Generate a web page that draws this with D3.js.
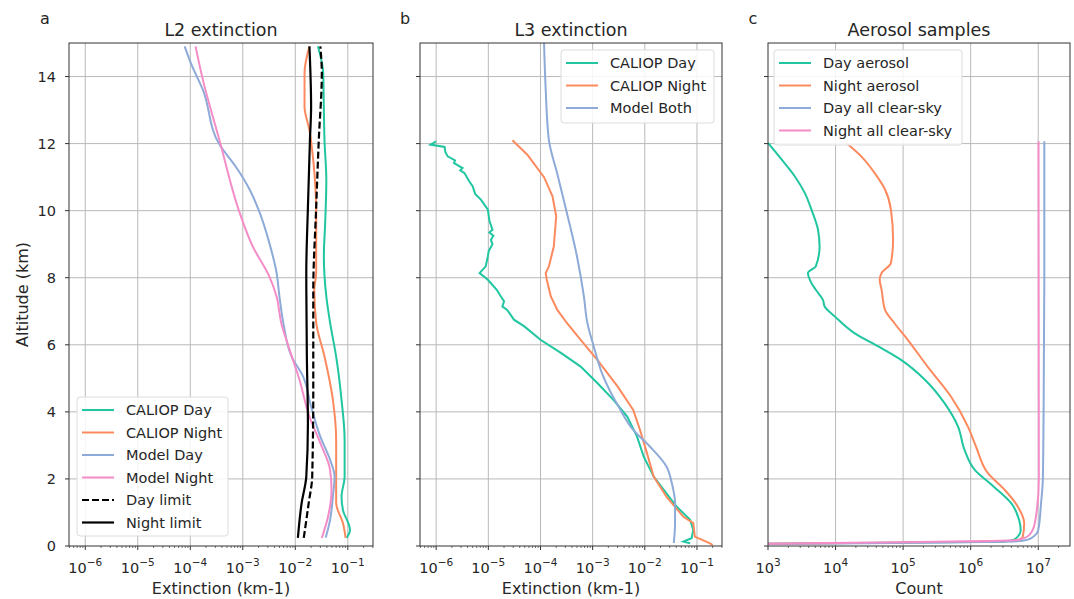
<!DOCTYPE html>
<html>
<head>
<meta charset="utf-8">
<script src="https://cdn.jsdelivr.net/npm/d3@7"></script>
<style>
  body { margin: 0; background: #fff; }
  text { font-family: "DejaVu Sans", sans-serif; fill: #262626; }
</style>
</head>
<body>
<svg id="fig" width="1074" height="599"></svg>
<script>
// ---- data ----
const altTicks = [0, 2, 4, 6, 8, 10, 12, 14];
const extTicks = [1e-6, 1e-5, 1e-4, 1e-3, 1e-2, 1e-1];
const countTicks = [1e3, 1e4, 1e5, 1e6, 1e7];

// panel a, L2 extinction: [altitude km, extinction km-1]
const l2CaliopDay = [[14.9,2.7e-2],[14.1,3.4e-2],[13,3.5e-2],[12.1,3.6e-2],[10.9,3.9e-2],[9.6,3.7e-2],[8.64,3.5e-2],[7.44,3.9e-2],[6.66,4.6e-2],[5.65,6.0e-2],[4.36,7.6e-2],[3.16,8.7e-2],[2.07,8.7e-2],[1.47,7.6e-2],[1.07,8.1e-2],[0.48,1.1e-1],[0.24,9.5e-2]];
const l2CaliopNight = [[14.9,1.86e-2],[14.1,1.5e-2],[13.1,1.5e-2],[12.4,1.86e-2],[11.5,2.2e-2],[9.94,2.5e-2],[8.15,2.5e-2],[7.64,2.3e-2],[6.66,2.5e-2],[5.65,3.6e-2],[4.36,5.2e-2],[3.16,6.0e-2],[2.07,6.0e-2],[1.28,6.0e-2],[0.68,8.1e-2],[0.24,9.1e-2]];
const l2ModelDay = [[14.9,7.8e-5],[14.36,1.05e-4],[13.6,1.74e-4],[11.97,3.6e-4],[11.28,7.6e-4],[10.63,1.35e-3],[9.94,2.1e-3],[9.04,3.2e-3],[8.15,4.4e-3],[7.43,5.0e-3],[6.66,5.9e-3],[5.65,8.5e-3],[5.05,1.41e-2],[4.16,2.0e-2],[3.26,3.0e-2],[2.57,4.6e-2],[2.07,5.6e-2],[1.47,5.2e-2],[0.78,4.6e-2],[0.25,3.8e-2]];
const l2ModelNight = [[14.9,1.26e-4],[13.9,1.74e-4],[12.1,3.6e-4],[9.94,8.7e-4],[8.93,1.55e-3],[8.04,3.2e-3],[7.44,4.4e-3],[6.65,5.4e-3],[5.85,7.8e-3],[4.96,1.2e-2],[3.86,1.86e-2],[3.07,3.0e-2],[2.27,4.6e-2],[1.67,4.9e-2],[0.87,4.2e-2],[0.24,3.2e-2]];
const l2DayLimit = [[14.9,3.0e-2],[14.1,3.2e-2],[12.1,2.8e-2],[10.1,2.5e-2],[7.6,2.2e-2],[4.66,2.2e-2],[2.07,2.1e-2],[1.28,1.8e-2],[0.24,1.45e-2]];
const l2NightLimit = [[14.9,1.86e-2],[13.1,2.0e-2],[12.1,1.9e-2],[10.1,1.74e-2],[8.15,1.62e-2],[5.65,1.66e-2],[3.66,1.74e-2],[2.07,1.62e-2],[1.28,1.32e-2],[0.24,1.12e-2]];

// panel b, L3 extinction
const l3CaliopDay = [[12.07,1.0e-6],[11.97,7.8e-7],[11.9,1.45e-6],[11.75,1.5e-6],[11.62,1.66e-6],[11.5,2.3e-6],[11.42,2.2e-6],[11.27,3.2e-6],[11.2,2.9e-6],[11.12,3.5e-6],[10.9,4.2e-6],[10.73,5.0e-6],[10.5,5.6e-6],[10.33,7.2e-6],[10.03,9.8e-6],[9.7,1.05e-5],[9.43,1.2e-5],[9.35,1.05e-5],[9.25,1.25e-5],[9.13,1.12e-5],[9.0,1.2e-5],[8.8,1.02e-5],[8.64,9.8e-6],[8.34,8.9e-6],[8.14,6.8e-6],[7.94,9.8e-6],[7.64,1.45e-5],[7.44,1.74e-5],[7.3,2.0e-5],[7.14,1.86e-5],[7.04,2.3e-5],[6.75,3.1e-5],[6.55,4.9e-5],[6.15,1.0e-4],[5.75,2.5e-4],[5.35,5.9e-4],[4.86,1.23e-3],[4.36,2.5e-3],[3.86,4.6e-3],[3.26,7.1e-3],[2.67,9.5e-3],[2.07,1.48e-2],[1.57,2.6e-2],[1.17,4.1e-2],[0.78,7.4e-2],[0.48,8.5e-2],[0.23,7.9e-2],[0.13,5.5e-2],[0.08,7.4e-2]];
const l3CaliopNight = [[12.1,2.9e-5],[11.67,5.6e-5],[11.0,1.17e-4],[10.43,1.7e-4],[9.83,2.0e-4],[8.93,1.8e-4],[8.34,1.45e-4],[8.14,1.26e-4],[7.94,1.32e-4],[7.44,1.58e-4],[7.04,2.1e-4],[6.65,3.2e-4],[6.15,5.9e-4],[5.55,1.23e-3],[4.76,3.0e-3],[4.06,6.0e-3],[3.46,8.1e-3],[2.77,1.1e-2],[2.07,1.48e-2],[1.47,2.6e-2],[0.87,5.5e-2],[0.68,8.5e-2],[0.28,9.1e-2],[0.08,1.78e-1],[0.03,2.0e-1]];
const l3ModelBoth = [[15.0,1.17e-4],[13.6,1.26e-4],[12.1,1.45e-4],[11.1,2.1e-4],[9.94,3.2e-4],[8.64,5.0e-4],[7.44,6.8e-4],[6.66,7.9e-4],[5.95,1.05e-3],[5.16,1.5e-3],[4.06,3.4e-3],[3.46,6.0e-3],[2.96,1.26e-2],[2.37,2.6e-2],[1.87,3.3e-2],[1.27,3.8e-2],[0.68,3.8e-2],[0.09,3.6e-2]];

// panel c, aerosol samples: [altitude km, count]
const dayAerosol = [[12.02,1.0e3],[11.52,1.6e3],[11.02,2.5e3],[10.53,3.5e3],[10.03,4.4e3],[9.43,5.5e3],[8.93,5.8e3],[8.34,5.1e3],[8.14,3.9e3],[7.84,4.4e3],[7.64,5.1e3],[7.34,6.5e3],[7.14,6.9e3],[6.84,9.8e3],[6.35,1.9e4],[5.95,4.3e4],[5.55,9.3e4],[4.96,2.1e5],[4.26,4.1e5],[3.56,6.5e5],[2.87,8.1e5],[2.27,1.15e6],[1.77,2.2e6],[1.27,4.0e6],[0.78,5.2e6],[0.48,5.5e6],[0.2,4.5e6],[0.13,3.0e6],[0.05,1e2]];
const nightAerosol = [[12.02,1.45e4],[11.62,2.4e4],[11.12,3.8e4],[10.63,5.4e4],[10.03,6.6e4],[9.13,7.1e4],[8.44,6.6e4],[8.14,4.8e4],[7.94,4.5e4],[7.64,4.8e4],[7.04,5.4e4],[6.65,7.4e4],[6.15,1.17e5],[5.35,2.3e5],[4.46,5.1e5],[3.56,9.1e5],[2.96,1.2e6],[2.17,1.8e6],[1.67,3.2e6],[1.17,5.0e6],[0.68,6.2e6],[0.28,5.9e6],[0.16,4.5e6],[0.05,1e2]];
const dayClearSky = [[12.07,1.23e7],[8,1.23e7],[4,1.2e7],[2,1.17e7],[1.27,1.1e7],[0.48,1.0e7],[0.23,7.8e6],[0.15,5.5e6],[0.05,1e2]];
const nightClearSky = [[12.07,1.01e7],[2,1.02e7],[0.68,8.9e6],[0.33,7.4e6],[0.18,5.0e6],[0.05,1e2]];

// ---- drawing ----
const teal = "#1fc6a0", orange = "#fc8a5e", blue = "#8eaad8", pink = "#f48cc8";
const svg = d3.select("#fig");
const plotTop = 43, plotBottom = 546;
const y = d3.scaleLinear().domain([0, 15]).range([plotBottom, plotTop]);

function supLabel(sel, v) {
  const e = Math.round(Math.log10(v));
  sel.append("tspan").text("10");
  sel.append("tspan").attr("dy", -7).attr("font-size", 10.5).text(e < 0 ? "\u2212" + (-e) : e);
}

function panel(p, idx) {
  const x = d3.scaleLog().domain(p.xDomain).range([p.left, p.right]);
  const g = svg.append("g");

  svg.append("clipPath").attr("id", "clip" + idx)
    .append("rect").attr("x", p.left).attr("y", plotTop).attr("width", p.right - p.left).attr("height", plotBottom - plotTop);

  // grid
  g.selectAll(".gx").data(p.xTicks.filter(v => x(v) > p.left + 1)).join("line")
    .attr("x1", d => x(d)).attr("x2", d => x(d)).attr("y1", plotTop).attr("y2", plotBottom)
    .attr("stroke", "#b9b9b9").attr("stroke-width", 1);
  g.selectAll(".gy").data(altTicks.filter(v => v > 0)).join("line")
    .attr("x1", p.left).attr("x2", p.right).attr("y1", d => y(d)).attr("y2", d => y(d))
    .attr("stroke", "#b9b9b9").attr("stroke-width", 1);

  // minor ticks
  const minors = [];
  const [lo, hi] = p.xDomain.map(Math.log10);
  for (let d = Math.floor(lo); d <= Math.ceil(hi); d++)
    for (let k = 2; k <= 9; k++) {
      const v = k * Math.pow(10, d);
      if (v > p.xDomain[0] && v < p.xDomain[1]) minors.push(v);
    }
  g.selectAll(".mt").data(minors).join("line")
    .attr("x1", d => x(d)).attr("x2", d => x(d)).attr("y1", plotBottom).attr("y2", plotBottom + 2)
    .attr("stroke", "#333").attr("stroke-width", 0.7);
  g.selectAll(".xt").data(p.xTicks).join("line")
    .attr("x1", d => x(d)).attr("x2", d => x(d)).attr("y1", plotBottom).attr("y2", plotBottom + 4)
    .attr("stroke", "#333").attr("stroke-width", 1);
  g.selectAll(".yt").data(altTicks).join("line")
    .attr("x1", p.left - 4).attr("x2", p.left).attr("y1", d => y(d)).attr("y2", d => y(d))
    .attr("stroke", "#333").attr("stroke-width", 1);

  g.selectAll(".xl").data(p.xTicks).join("text")
    .attr("x", d => x(d)).attr("y", 573).attr("text-anchor", "middle").attr("font-size", 14.5)
    .each(function (d) { supLabel(d3.select(this), d); });

  if (p.yLabels) {
    g.selectAll(".yl").data(altTicks).join("text")
      .attr("x", p.left - 13).attr("y", d => y(d) + 5).attr("text-anchor", "end").attr("font-size", 14.5)
      .text(d => d);
    g.append("text").attr("transform", `translate(28,${(plotTop + plotBottom) / 2}) rotate(-90)`)
      .attr("text-anchor", "middle").attr("font-size", 16).text("Altitude (km)");
  }

  // lines
  const lines = g.append("g").attr("clip-path", `url(#clip${idx})`);
  p.series.forEach(s => {
    const pts = s.data.slice().sort((a, b) => a[0] - b[0]);
    const line = d3.line().x(d => x(d[1])).y(d => y(d[0]))
      .curve(s.jagged ? d3.curveLinear : d3.curveMonotoneY);
    lines.append("path").attr("d", line(pts)).attr("fill", "none")
      .attr("stroke", s.color).attr("stroke-width", s.width || 2)
      .attr("stroke-dasharray", s.dash || null);
  });

  // frame
  g.append("rect").attr("x", p.left).attr("y", plotTop).attr("width", p.right - p.left).attr("height", plotBottom - plotTop)
    .attr("fill", "none").attr("stroke", "#333").attr("stroke-width", 1);

  // titles
  g.append("text").attr("x", (p.left + p.right) / 2).attr("y", 36).attr("text-anchor", "middle")
    .attr("font-size", 17.5).text(p.title);
  g.append("text").attr("x", p.letterX).attr("y", 24).attr("text-anchor", "middle")
    .attr("font-size", 16).text(p.letter);
  g.append("text").attr("x", (p.left + p.right) / 2).attr("y", 594).attr("text-anchor", "middle")
    .attr("font-size", 16).text(p.xLabel);

  // legend
  const L = p.legend;
  const lg = g.append("g");
  lg.append("rect").attr("x", L.x).attr("y", L.y).attr("width", L.w).attr("height", L.h).attr("rx", 3)
    .attr("fill", "#fff").attr("fill-opacity", 0.85).attr("stroke", "#dcdcdc");
  p.series.forEach((s, i) => {
    const yy = L.y + 13 + i * 22.5;
    lg.append("line").attr("x1", L.x + 5).attr("x2", L.x + 37).attr("y1", yy).attr("y2", yy)
      .attr("stroke", s.color).attr("stroke-width", s.width || 2).attr("stroke-dasharray", s.dash || null);
    lg.append("text").attr("x", L.x + 49).attr("y", yy + 5).attr("font-size", 14.5).text(s.name);
  });
}

const extDomain = [Math.pow(10, -6.31), Math.pow(10, -0.52)];

panel({
  left: 69, right: 373, xDomain: extDomain, xTicks: extTicks, yLabels: true,
  title: "L2 extinction", letter: "a", letterX: 45, xLabel: "Extinction (km-1)",
  legend: { x: 77, y: 397, w: 151, h: 139 },
  series: [
    { name: "CALIOP Day", data: l2CaliopDay, color: teal },
    { name: "CALIOP Night", data: l2CaliopNight, color: orange },
    { name: "Model Day", data: l2ModelDay, color: blue },
    { name: "Model Night", data: l2ModelNight, color: pink },
    { name: "Day limit", data: l2DayLimit, color: "#000", dash: "7,3", width: 2.2 },
    { name: "Night limit", data: l2NightLimit, color: "#000", width: 2.2 }
  ]
}, 0);

panel({
  left: 420, right: 722, xDomain: extDomain, xTicks: extTicks, yLabels: false,
  title: "L3 extinction", letter: "b", letterX: 405, xLabel: "Extinction (km-1)",
  legend: { x: 561, y: 50, w: 153, h: 73 },
  series: [
    { name: "CALIOP Day", data: l3CaliopDay, color: teal, jagged: true },
    { name: "CALIOP Night", data: l3CaliopNight, color: orange, jagged: true },
    { name: "Model Both", data: l3ModelBoth, color: blue }
  ]
}, 1);

panel({
  left: 768, right: 1070, xDomain: [1e3, Math.pow(10, 7.47)], xTicks: countTicks, yLabels: false,
  title: "Aerosol samples", letter: "c", letterX: 753, xLabel: "Count",
  legend: { x: 774, y: 50, w: 188, h: 95 },
  series: [
    { name: "Day aerosol", data: dayAerosol, color: teal },
    { name: "Night aerosol", data: nightAerosol, color: orange },
    { name: "Day all clear-sky", data: dayClearSky, color: blue },
    { name: "Night all clear-sky", data: nightClearSky, color: pink }
  ]
}, 2);
</script>
</body>
</html>
